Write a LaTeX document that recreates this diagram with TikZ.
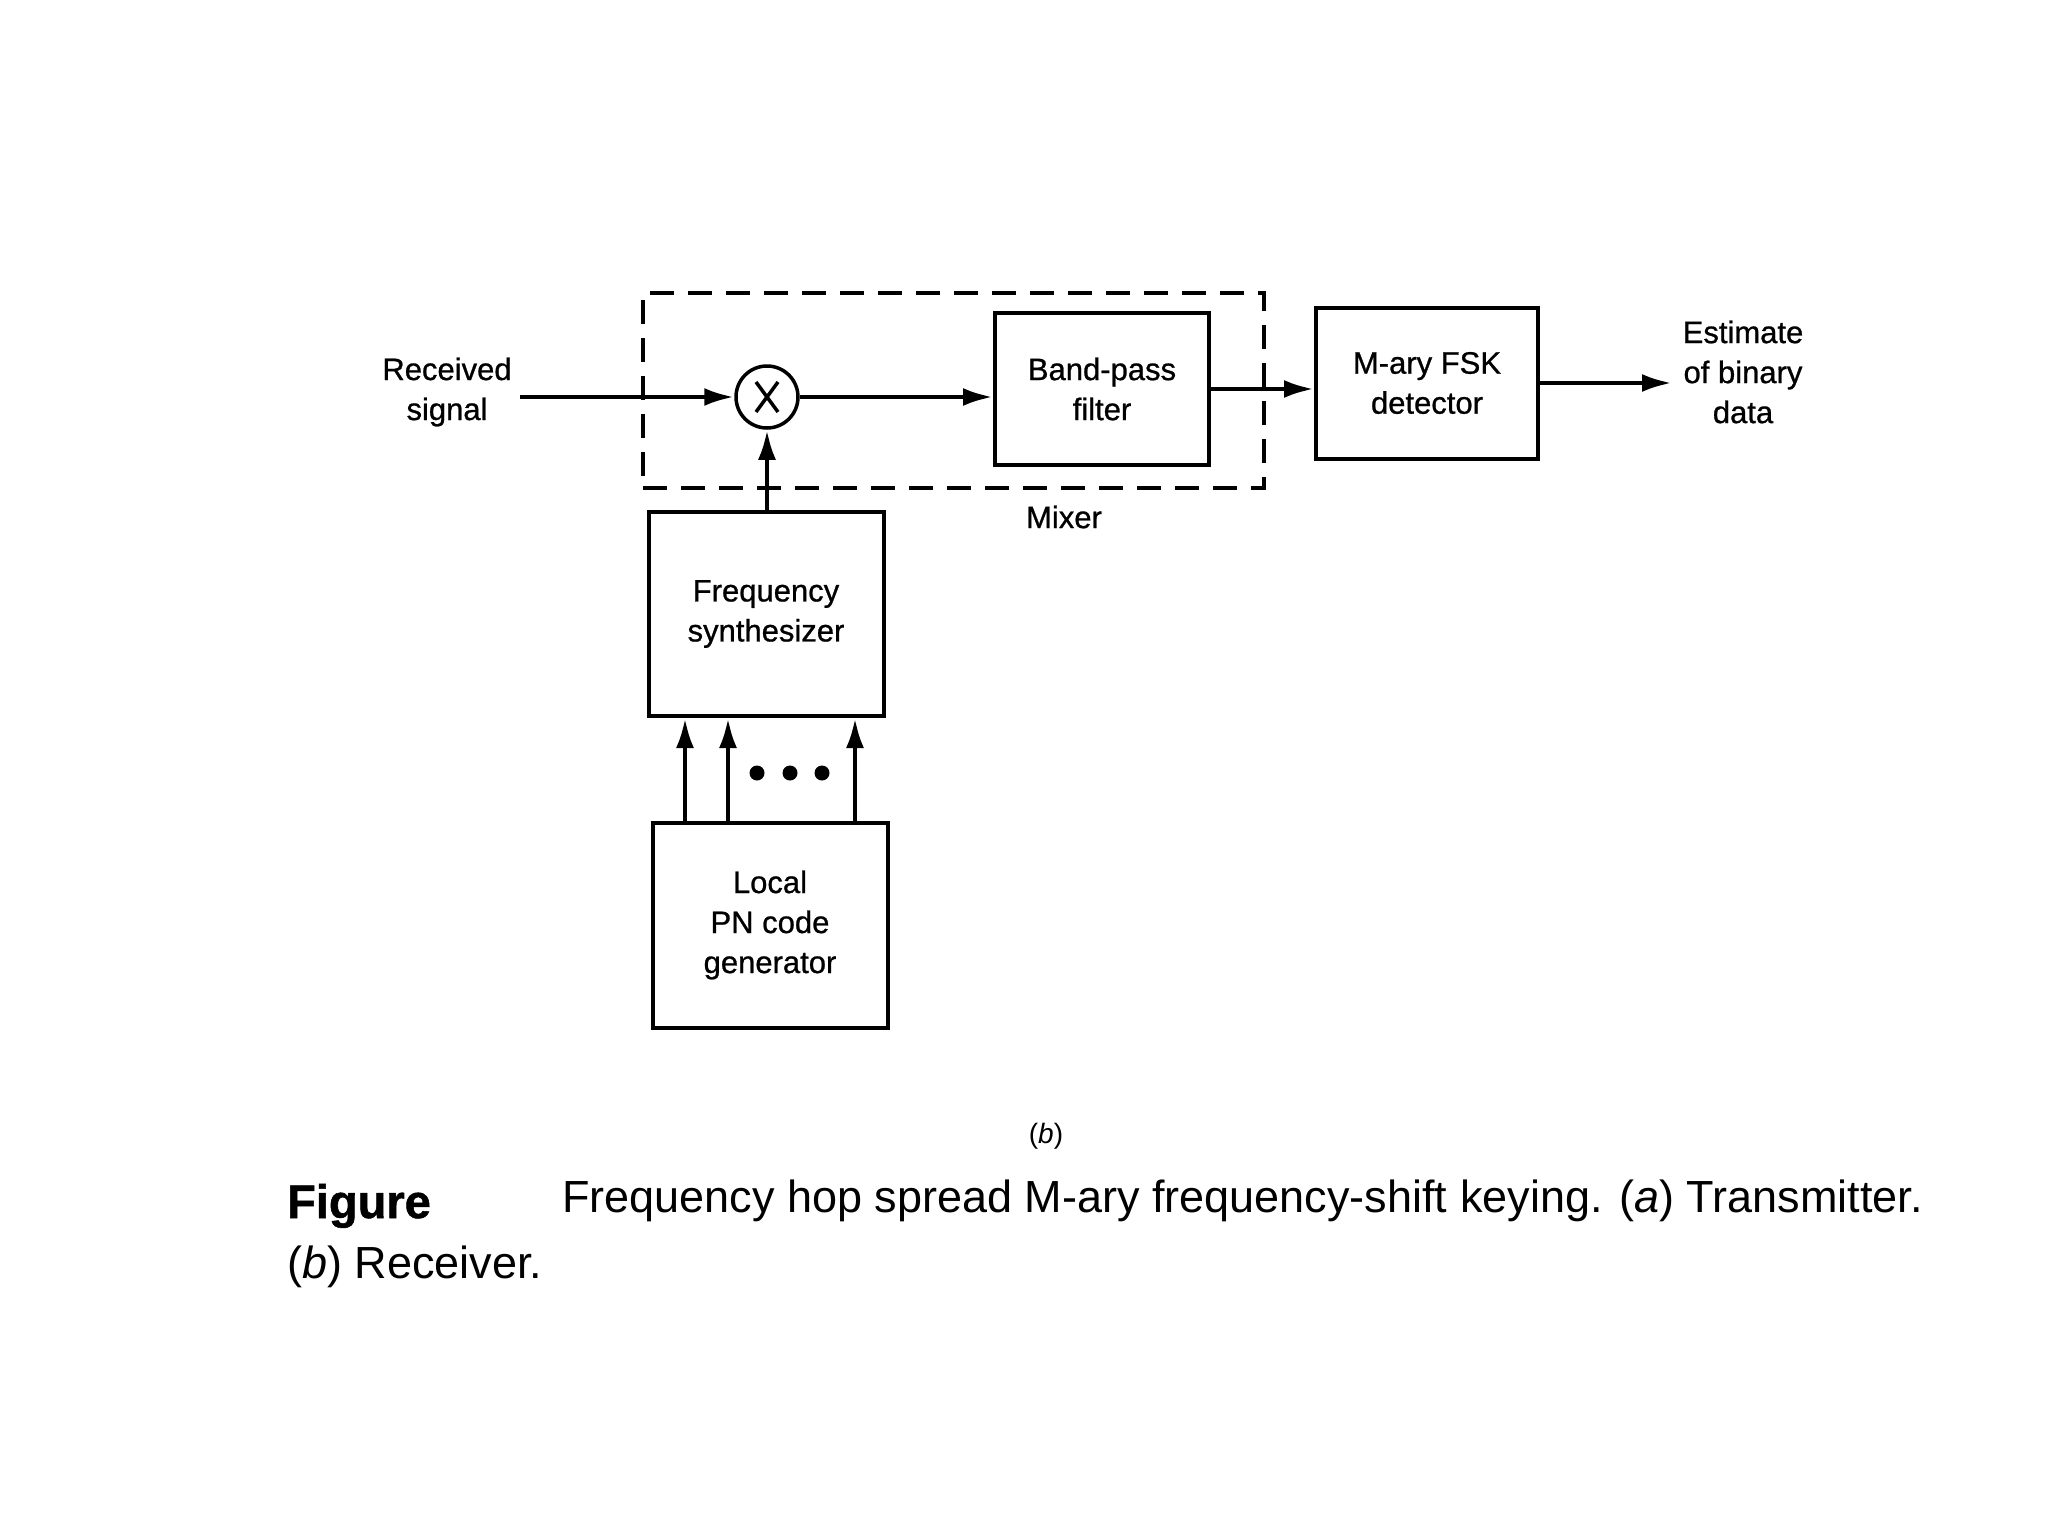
\documentclass[tikz,border=0pt]{standalone}
\usepackage{fontspec}
\setmainfont{Liberation Sans}
\newfontfamily\diagfont{Liberation Sans}[FakeBold=0.8]
\newfontfamily\capboldfont{Liberation Sans Bold}[FakeBold=1.2]
\usetikzlibrary{arrows.meta,calc}
\begin{document}
\begin{tikzpicture}[x=1pt,y=-1pt,
  blk/.style={draw, line width=4pt, inner sep=0pt, font=\diagfont\fontsize{31}{40}\selectfont, align=center},
  lbl/.style={font=\diagfont\fontsize{31}{40}\selectfont, align=center, inner sep=0pt},
  conn/.style={line width=4.5pt, -{Latex[length=30pt,width=18pt]}},
  dotn/.style={circle, fill, minimum size=15pt, inner sep=0pt}
  ]
\fill[white] (0,0) rectangle (2048,1536);
\useasboundingbox (0,0) rectangle (2048,1536);

% mixer dashed frame
\node[draw, line width=3.5pt, dash pattern=on 24pt off 14pt, minimum width=621pt, minimum height=195pt, inner sep=0pt] (mixbox) at (953.5,390.5) {};

% blocks
\node[blk, minimum width=214pt, minimum height=152pt] (bpf) at (1102,389) {Band-pass\\filter};
\node[blk, minimum width=222pt, minimum height=151pt] (det) at (1427,383) {M-ary FSK\\detector};
\node[blk, minimum width=235pt, minimum height=204pt] (syn) at (766,614) {Frequency\\synthesizer};
\node[blk, minimum width=235pt, minimum height=205pt] (pn) at (770,925) {Local\\PN code\\generator};

% multiplier
\node[draw, circle, line width=3.5pt, minimum size=62pt, inner sep=0pt] (mult) at (767,397) {};
\draw[line width=3.5pt] ($(mult)+(-11,-15)$) -- ($(mult)+(11,15)$);
\draw[line width=3.5pt] ($(mult)+(11,-15)$) -- ($(mult)+(-11,15)$);

% labels
\node[lbl] (rx) at (447,392) {Received\\signal};
\node[lbl] (est) at (1743,372) {Estimate\\of binary\\data};
\node[lbl] (mixlbl) at (1064,517) {Mixer};

% connectors
\coordinate (inp) at (520,397);
\coordinate (outp) at (1672,383);
\draw[conn] (inp) -- (mult.west);
\draw[conn] (mult.east) -- (mult.east -| bpf.west);
\draw[conn] (bpf.east) -- (bpf.east -| det.west);
\draw[conn] (det.east) -- (outp);
\draw[conn] (syn.north -| mult) -- (mult.south);

\coordinate (a1) at (685,0);
\coordinate (a2) at (728,0);
\coordinate (a3) at (855,0);
\draw[conn] (pn.north -| a1) -- (syn.south -| a1);
\draw[conn] (pn.north -| a2) -- (syn.south -| a2);
\draw[conn] (pn.north -| a3) -- (syn.south -| a3);

\node[dotn] (d1) at (757,773) {};
\node[dotn] (d2) at (790,773) {};
\node[dotn] (d3) at (822,773) {};

% sub label
\node[inner sep=0pt, font=\fontsize{28}{30}\selectfont] (sub) at (1046,1136) {(\textit{b})};

% caption
\node[anchor=base west, inner sep=0pt, font=\capboldfont\fontsize{47}{50}\selectfont] (fig) at (287,1218) {Figure};
\node[anchor=base west, inner sep=0pt, font=\fontsize{45}{50}\selectfont] (cap1) at (562,1212) {Frequency hop spread M-ary frequency-shift keying. (\textit{a}) Transmitter.};
\node[anchor=base west, inner sep=0pt, font=\fontsize{45}{50}\selectfont] (cap2) at (287,1278) {(\textit{b}) Receiver.};
\end{tikzpicture}
\end{document}
